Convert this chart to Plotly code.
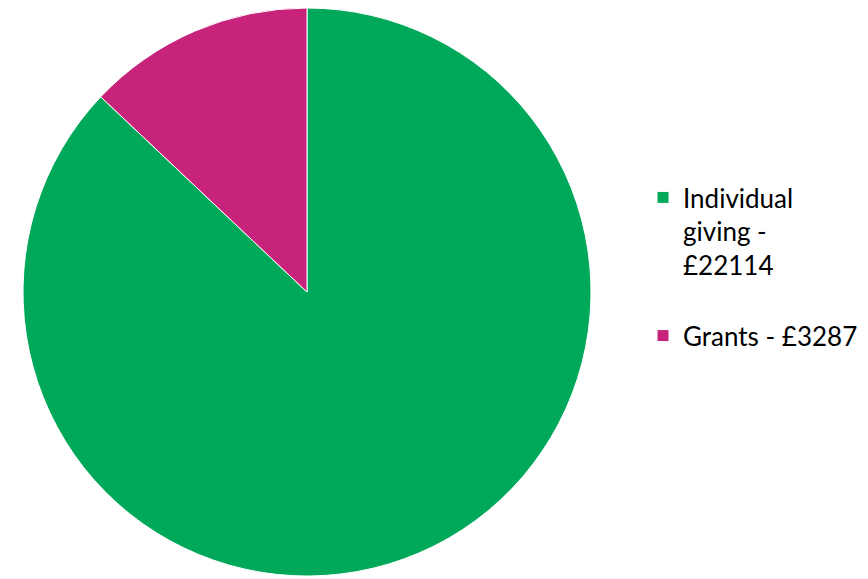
import plotly.graph_objects as go

categories = ["Individual giving", "Grants"]
amounts = [22114, 3287]
colors = ["#00A859", "#C7237A"]

legend_text = ["Individual<br>giving -<br>£22114<br> ", "Grants - £3287"]

W, H = 868, 579
# page body adds an 8px offset; pie centre aimed at (307, 292) on screen
cx, top, r = 299, 0, 284

fig = go.Figure(
    go.Pie(
        labels=legend_text,
        values=amounts,
        customdata=categories,
        sort=False,
        direction="clockwise",
        rotation=0,
        textinfo="none",
        hovertemplate="%{customdata}: £%{value}<extra></extra>",
        marker=dict(colors=colors, line=dict(color="white", width=1)),
        domain=dict(
            x=[(cx - r) / W, (cx + r) / W],
            y=[1 - (top + 2 * r) / H, 1 - top / H],
        ),
    )
)

fig.update_layout(
    width=W,
    height=H,
    margin=dict(l=0, r=0, t=0, b=0, autoexpand=False),
    paper_bgcolor="white",
    plot_bgcolor="white",
    showlegend=True,
    legend=dict(
        x=635 / W,
        xanchor="left",
        y=1 - 166 / H,
        yanchor="top",
        valign="top",
        font=dict(family="Lato", size=26, color="black"),
        bgcolor="rgba(0,0,0,0)",
    ),
)

fig.write_html("out.html")
